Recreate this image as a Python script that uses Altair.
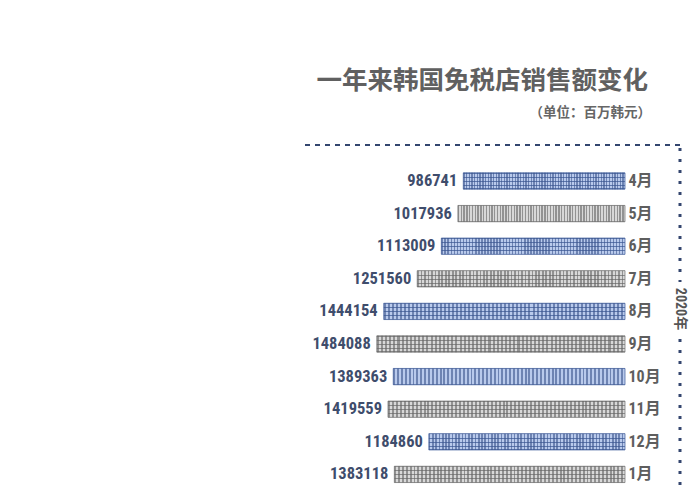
import altair as alt
import pandas as pd

# ---- data ----
months = ["4月", "5月", "6月", "7月", "8月", "9月", "10月", "11月", "12月", "1月", "2月"]
sales = [986741, 1017936, 1113009, 1251560, 1444154, 1484088, 1389363, 1419559, 1184860, 1383118, 1177000]

title_text = "一年来韩国免税店销售额变化"
unit_text = "（单位：百万韩元）"
year_text = "2020年"

df = pd.DataFrame({"month": months, "sales": sales, "idx": list(range(len(months)))})
one = pd.DataFrame({"t": [title_text], "u": [unit_text], "y": [year_text]})

W, H = 684, 484
NUM_FONT = "'Liberation Sans Narrow', 'Roboto Condensed', 'Noto Sans CJK SC', sans-serif"
CJK_FONT = "'Noto Sans CJK SC', sans-serif"
BAR_BASE = 57471  # value at which the bars' right edge sits on the x scale


def hgrad(base, line):
    stops = []
    for c in [0.0, 0.25, 0.5, 0.75]:
        stops += [
            alt.GradientStop(offset=c, color=line),
            alt.GradientStop(offset=c + 0.05, color=line),
            alt.GradientStop(offset=c + 0.05, color=base),
            alt.GradientStop(offset=c + 0.25, color=base),
        ]
    stops[-1] = alt.GradientStop(offset=0.95, color=base)
    stops += [alt.GradientStop(offset=0.95, color=line), alt.GradientStop(offset=1.0, color=line)]
    return alt.LinearGradient(gradient="linear", stops=stops, x1=0, x2=0, y1=0, y2=1)


def vgrad(line, n=60):
    clear = "rgba(255,255,255,0)"
    stops = []
    w = 0.5 / n
    for k in range(n):
        a = k / n
        stops += [
            alt.GradientStop(offset=a, color=clear),
            alt.GradientStop(offset=a, color=line),
            alt.GradientStop(offset=a + w, color=line),
            alt.GradientStop(offset=a + w, color=clear),
        ]
    stops.append(alt.GradientStop(offset=1.0, color=clear))
    return alt.LinearGradient(gradient="linear", stops=stops, x1=0, x2=1, y1=0, y2=0)


xscale = alt.Scale(domain=[0, 1000000], range=[627, 453])
yscale = alt.Scale(domain=months, range=[156.7, 515.3], paddingInner=0.5, paddingOuter=0.25)
x_enc = alt.X("sales:Q", scale=xscale, axis=None, stack=None)
x2_enc = alt.datum(BAR_BASE)
y_enc = alt.Y("month:N", sort=months, scale=yscale, axis=None)

base = alt.Chart(df)

blue_f = "datum.idx % 2 == 0"
gray_f = "datum.idx % 2 == 1"

blue_bg = base.transform_filter(blue_f).mark_bar(
    fill=hgrad("#b9caec", "#5d77ad"), stroke="#4f6aa3", strokeWidth=0.8
).encode(x=x_enc, x2=x2_enc, y=y_enc)
blue_v = base.transform_filter(blue_f).mark_bar(
    fill=vgrad("rgba(60,85,140,0.6)")
).encode(x=x_enc, x2=x2_enc, y=y_enc)

gray_bg = base.transform_filter(gray_f).mark_bar(
    fill=hgrad("#d8d8d8", "#8a8a8a"), stroke="#7d7d7d", strokeWidth=0.8
).encode(x=x_enc, x2=x2_enc, y=y_enc)
gray_v = base.transform_filter(gray_f).mark_bar(
    fill=vgrad("rgba(100,100,100,0.6)")
).encode(x=x_enc, x2=x2_enc, y=y_enc)

value_labels = base.mark_text(
    align="right", baseline="middle", dx=-6, font=NUM_FONT, fontSize=16.5,
    fontWeight="bold", color="#3f4d6c"
).encode(x=x_enc, y=y_enc, text=alt.Text("sales:Q", format="d"))

month_labels = base.mark_text(
    align="left", baseline="middle", font=NUM_FONT, fontSize=16,
    fontWeight="bold", color="#5e5e5e"
).encode(x=alt.value(620.5), y=y_enc, text="month:N")

title = alt.Chart(one).mark_text(
    align="right", baseline="middle", font=CJK_FONT, fontSize=25.5,
    fontWeight="bold", color="#606060"
).encode(x=alt.value(640), y=alt.value(73), text="t:N")

unit = alt.Chart(one).mark_text(
    align="right", baseline="middle", font=CJK_FONT, fontSize=13.5,
    fontWeight="bold", color="#666666"
).encode(x=alt.value(643), y=alt.value(104.5), text="u:N")

year = alt.Chart(one).mark_text(
    align="center", baseline="middle", font=NUM_FONT, fontSize=14,
    fontWeight="bold", color="#555555", angle=90
).encode(x=alt.value(672), y=alt.value(301), text="y:N")

top_rule = alt.Chart(one).mark_rule(
    color="#34466f", strokeWidth=2, strokeDash=[5, 5]
).encode(x=alt.value(297), x2=alt.value(673), y=alt.value(137))

right_rule_a = alt.Chart(one).mark_rule(
    color="#34466f", strokeWidth=3, strokeDash=[3, 8]
).encode(x=alt.value(672), y=alt.value(140), y2=alt.value(274))

right_rule_b = alt.Chart(one).mark_rule(
    color="#34466f", strokeWidth=3, strokeDash=[3, 8]
).encode(x=alt.value(672), y=alt.value(331), y2=alt.value(484))

chart = alt.layer(
    top_rule, right_rule_a, right_rule_b,
    blue_bg, blue_v, gray_bg, gray_v,
    value_labels, month_labels, title, unit, year,
).properties(
    width=W, height=H, padding=0, autosize="none", background="white"
).configure_view(stroke=None)

chart.save("out.html", embed_options={"renderer": "svg", "actions": False})
